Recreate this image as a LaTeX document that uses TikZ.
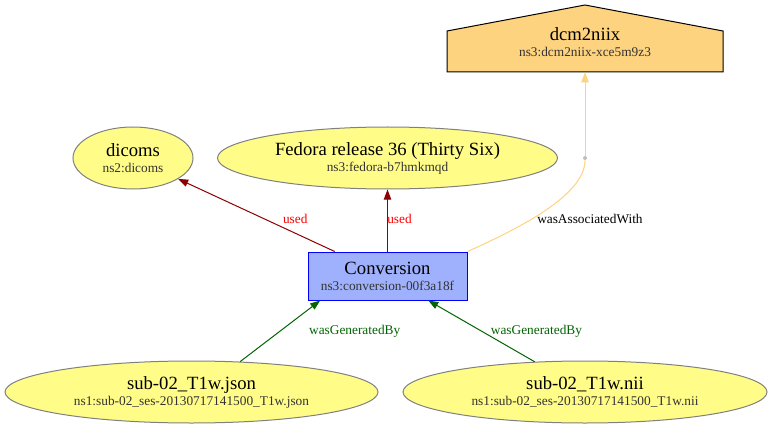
\documentclass[tikz,border=0pt]{standalone}
\usepackage{fontspec}
\setmainfont{Liberation Serif}
\usetikzlibrary{arrows.meta,shapes.geometric}

\newcommand{\provlabel}[2]{{\fontsize{14}{14}\selectfont #1}\\{\fontsize{10}{10.5}\selectfont\color{provsub}#2}}

\begin{document}
\begin{tikzpicture}[x=0.75pt,y=0.75pt,
    entity/.style={shape=ellipse,draw=entityline,fill=entityfill,line width=0.75pt,inner sep=0pt,align=center,minimum height=46.5pt},
    activity/.style={shape=rectangle,draw=activityline,fill=activityfill,line width=0.75pt,inner sep=0pt,align=center,minimum width=119.25pt,minimum height=36pt},
    usededge/.style={draw=usedline,line width=0.75pt,-{Triangle[length=7.5pt,width=5.5pt]}},
    genedge/.style={draw=genline,line width=0.75pt,-{Triangle[length=7.5pt,width=5.5pt]}},
    assocedge/.style={draw=agentfill,line width=0.75pt},
    edgelabel/.style={font=\fontsize{10}{12}\selectfont,inner sep=0pt}]
    \definecolor{entityfill}{HTML}{FFFC87}
    \definecolor{entityline}{HTML}{808080}
    \definecolor{activityfill}{HTML}{9FB1FC}
    \definecolor{activityline}{HTML}{0000FF}
    \definecolor{agentfill}{HTML}{FED37F}
    \definecolor{usedline}{HTML}{8B0000}
    \definecolor{genline}{HTML}{006400}
    \definecolor{provsub}{HTML}{333333}
    \useasboundingbox (0,0) rectangle (770,429);

    % agent (house)
    \filldraw[fill=agentfill,draw=black,line width=0.75pt] (447,357) -- (723,357) -- (723,398) -- (585,424) -- (447,398) -- cycle;
    \node[align=center,inner sep=0pt,minimum width=207pt,minimum height=45pt] (tool) at (585,387) {\provlabel{dcm2niix}{ns3:dcm2niix-xce5m9z3}};

    % entities and activity
    \node[entity,minimum width=90pt] (dicoms) at (133,271) {\provlabel{dicoms}{ns2:dicoms}};
    \node[entity,minimum width=255pt] (fedora) at (387.5,271) {\provlabel{Fedora release 36 (Thirty Six)}{ns3:fedora-b7hmkmqd}};
    \node[activity] (conv) at (387.5,153) {\provlabel{Conversion}{ns3:conversion-00f3a18f}};
    \node[entity,minimum width=279.75pt] (json) at (191.5,37) {\provlabel{sub-02\_T1w.json}{ns1:sub-02\_ses-20130717141500\_T1w.json}};
    \node[entity,minimum width=273pt] (nii) at (585,37) {\provlabel{sub-02\_T1w.nii}{ns1:sub-02\_ses-20130717141500\_T1w.nii}};
    \node[shape=circle,fill=gray!50,inner sep=0pt,minimum size=3pt] (assocpt) at (585,271) {};

    % relations
    \draw[usededge] (conv) -- (dicoms) node[edgelabel,text=red,pos=0.45,xshift=23.25pt] (usedA) {used};
    \draw[usededge] (conv) -- (fedora) node[edgelabel,text=red,pos=0.52,xshift=9pt] (usedB) {used};
    \draw[assocedge] (conv.north east) .. controls (520,201) and (585,234) .. (assocpt) node[edgelabel,pos=0.5,xshift=33pt,yshift=-6.75pt] (assoclabel) {wasAssociatedWith};
    \draw[assocedge,-{Triangle[length=7.5pt,width=5.5pt]}] (assocpt) -- (tool.south);
    \draw[genedge] (json.32) -- (conv.200) node[edgelabel,text=genline,pos=0.5,xshift=55.9pt] (genA) {wasGeneratedBy};
    \draw[genedge] (nii.149) -- (conv.329) node[edgelabel,text=genline,pos=0.5,xshift=41.25pt] (genB) {wasGeneratedBy};
\end{tikzpicture}
\end{document}
